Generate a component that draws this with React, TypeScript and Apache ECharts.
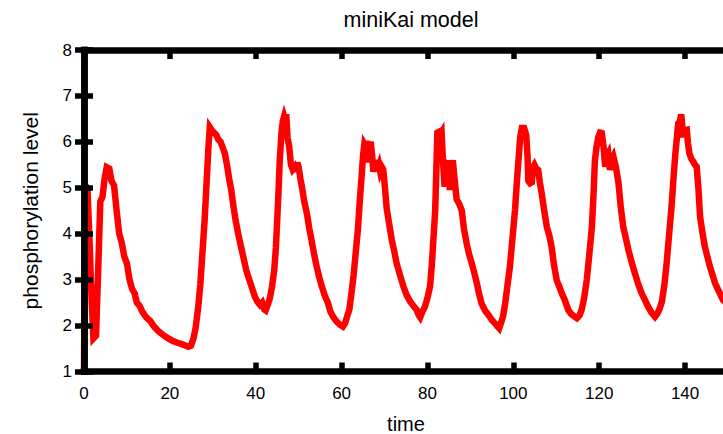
import React, { useEffect, useRef } from "react";
import * as echarts from "echarts";

const titleText = "miniKai model";
const xAxisName = "time";
const yAxisName = "phosphorylation level";

const times = [
  0, 0.3, 0.8, 1.3, 1.8, 2.2, 2.8, 3.3, 3.8, 4.3, 4.8, 5.3, 5.9, 6.4, 7.0, 7.6, 8.2, 8.8, 9.4, 10.0,
  10.6, 11.2, 11.8, 12.3, 13.0, 13.6, 14.5, 15.4, 16.3, 17.3, 18.5, 19.6, 20.6, 21.6, 22.6, 23.5, 24.3, 24.9, 25.5, 26.0,
  26.6, 27.1, 27.6, 28.1, 28.6, 29.0, 29.3, 29.8, 30.3, 30.8, 31.3, 31.8, 32.3, 32.8, 33.3, 33.8, 34.3, 34.8, 35.3, 35.9,
  36.5, 37.1, 37.8, 38.5, 39.2, 39.8, 40.4, 41.0, 41.5, 42.0, 42.3, 42.8, 43.3, 43.8, 44.3, 44.7, 45.0, 45.3, 45.6, 46.0,
  46.3, 46.6, 46.9, 47.1, 47.4, 47.8, 48.2, 48.6, 49.0, 49.3, 49.7, 50.0, 50.4, 50.8, 51.3, 51.9, 52.5, 53.0, 53.6, 54.2,
  54.8, 55.4, 56.1, 56.8, 57.4, 58.1, 58.9, 59.6, 60.3, 60.8, 61.3, 61.8, 62.3, 62.8, 63.3, 63.8, 64.3, 64.7, 65.0, 65.3,
  65.6, 65.9, 66.2, 66.5, 66.8, 67.1, 67.4, 67.7, 68.0, 68.3, 68.7, 69.0, 69.4, 69.7, 70.1, 70.5, 71.1, 71.7, 72.3, 72.8,
  73.6, 74.4, 75.2, 76.0, 76.8, 77.5, 78.0, 78.3, 78.8, 79.4, 80.0, 80.6, 81.0, 81.4, 81.8, 82.1, 82.3, 82.7, 83.0, 83.3,
  83.6, 84.0, 84.3, 84.6, 84.9, 85.2, 85.5, 85.9, 86.3, 86.8, 87.4, 88.0, 88.5, 89.1, 89.7, 90.3, 90.9, 91.5, 92.0, 92.6,
  93.4, 94.2, 95.0, 95.7, 96.3, 96.7, 97.2, 97.6, 98.1, 98.6, 99.2, 99.8, 100.4, 100.8, 101.2, 101.6, 102.0, 102.5, 103.0, 103.3,
  103.5, 103.9, 104.3, 104.6, 104.9, 105.3, 105.8, 106.2, 106.6, 107.2, 107.8, 108.4, 108.9, 109.5, 110.1, 110.7, 111.3, 112.0, 112.8, 113.5,
  114.2, 114.8, 115.4, 115.9, 116.5, 117.1, 117.7, 118.3, 118.7, 119.0, 119.4, 119.8, 120.2, 120.6, 121.0, 121.4, 121.8, 122.1, 122.5, 122.9,
  123.3, 123.9, 124.5, 125.0, 125.6, 126.2, 126.8, 127.5, 128.3, 129.1, 129.9, 130.7, 131.4, 132.2, 133.0, 133.5, 134.0, 134.6, 135.2, 135.7,
  136.3, 136.9, 137.3, 137.7, 138.1, 138.4, 138.8, 139.1, 139.4, 139.6, 140.0, 140.4, 140.7, 141.0, 141.5, 141.9, 142.3, 142.7, 143.1, 143.5,
  144.0, 144.6, 145.2, 145.8, 146.4, 147.0, 147.6, 148.1, 148.8, 149.5, 150.0,
];

const levels = [
  1.0, 5.05, 5.0, 3.8, 2.5, 1.72, 1.78, 3.2, 4.7, 4.8, 5.2, 5.45, 5.42, 5.15, 5.05, 4.5, 4.0, 3.8, 3.5, 3.35,
  3.0, 2.8, 2.7, 2.5, 2.42, 2.3, 2.18, 2.1, 1.98, 1.88, 1.79, 1.72, 1.67, 1.63, 1.6, 1.57, 1.54, 1.56, 1.72, 1.95,
  2.4, 2.9, 3.6, 4.3, 5.2, 5.9, 6.32, 6.25, 6.2, 6.15, 6.05, 6.0, 5.88, 5.75, 5.5, 5.2, 4.95, 4.6, 4.3, 4.0,
  3.75, 3.5, 3.2, 3.0, 2.8, 2.63, 2.52, 2.45, 2.5, 2.35, 2.33, 2.45, 2.6, 2.85, 3.2, 3.7, 4.3, 4.9, 5.6, 6.2,
  6.45, 6.55, 6.45, 6.6, 6.1, 5.9, 5.5, 5.4, 5.45, 5.35, 5.55, 5.45, 5.2, 5.0, 4.7, 4.45, 4.1, 3.86, 3.55, 3.28,
  3.05, 2.85, 2.65, 2.5, 2.3, 2.18, 2.08, 2.02, 1.98, 2.05, 2.2, 2.35, 2.7, 3.1, 3.6, 4.1, 4.8, 5.3, 5.7, 5.95,
  5.9, 6.02, 5.55, 5.9, 6.0, 5.7, 5.35, 5.5, 5.6, 5.4, 5.5, 5.35, 5.45, 5.4, 5.0, 4.55, 4.2, 3.86, 3.6, 3.36,
  3.1, 2.85, 2.65, 2.52, 2.42, 2.34, 2.22, 2.18, 2.3, 2.41, 2.6, 2.85, 3.3, 3.9, 4.5, 5.5, 6.2, 6.22, 6.15, 6.2,
  5.6, 5.02, 5.5, 5.45, 5.6, 4.95, 5.3, 5.6, 5.2, 4.75, 4.65, 4.5, 4.1, 3.8, 3.55, 3.36, 3.15, 2.92, 2.7, 2.48,
  2.33, 2.23, 2.12, 2.05, 1.98, 1.94, 2.08, 2.2, 2.48, 2.85, 3.28, 3.9, 4.52, 5.1, 5.6, 6.1, 6.3, 6.3, 6.15, 5.7,
  5.15, 5.1, 5.12, 5.45, 5.5, 5.42, 5.39, 5.1, 4.88, 4.5, 4.15, 3.95, 3.72, 3.3, 2.99, 2.85, 2.7, 2.55, 2.34, 2.25,
  2.2, 2.16, 2.22, 2.34, 2.6, 2.99, 3.55, 4.15, 4.9, 5.6, 5.9, 6.11, 6.2, 6.19, 5.9, 5.46, 5.7, 5.75, 5.39, 5.6,
  5.68, 5.45, 5.1, 4.6, 4.15, 3.9, 3.65, 3.4, 3.14, 2.9, 2.7, 2.55, 2.41, 2.28, 2.19, 2.25, 2.35, 2.52, 2.9, 3.35,
  4.0, 4.65, 5.2, 5.7, 6.1, 6.4, 6.45, 6.6, 6.3, 6.1, 6.25, 6.26, 5.95, 5.75, 5.62, 5.57, 5.5, 5.46, 5.0, 4.37,
  4.05, 3.72, 3.5, 3.28, 3.1, 2.92, 2.8, 2.7, 2.56, 2.5, 2.45,
];

const FONT = "Liberation Sans";

export default function App() {
  const ref = useRef<HTMLDivElement>(null);
  useEffect(() => {
    document.body.style.margin = "0";
    const chart = echarts.init(ref.current!, undefined, { renderer: "svg" });
    const frameLine = { show: true, lineStyle: { color: "#000", width: 6.5, cap: "square" } };
    const tick = { show: true, inside: true, length: 9, lineStyle: { color: "#000", width: 5.5 } };
    chart.setOption({
      animation: false,
      backgroundColor: "#fff",
      textStyle: { fontFamily: FONT },
      title: {
        text: titleText,
        left: 406,
        textAlign: "center",
        top: 4,
        textStyle: { fontFamily: FONT, fontSize: 21.5, fontWeight: "normal", color: "#000" },
      },
      grid: {
        left: 84,
        right: -5,
        top: 50,
        bottom: 62.5,
        containLabel: false,
        outerBoundsMode: "none",
      },
      xAxis: [
        {
          type: "value",
          position: "bottom",
          z: 5,
          min: 0,
          max: 150,
          interval: 20,
          name: xAxisName,
          nameLocation: "middle",
          nameGap: 42,
          nameTextStyle: { fontFamily: FONT, fontSize: 20, lineHeight: 20, color: "#000" },
          axisLine: frameLine,
          axisTick: tick,
          splitLine: { show: false },
          axisLabel: {
            margin: 13,
            fontFamily: FONT,
            fontSize: 17,
            color: "#000",
            showMaxLabel: false,
          },
        },
        {
          type: "value",
          position: "top",
          z: 5,
          min: 0,
          max: 150,
          interval: 20,
          axisLine: frameLine,
          axisTick: tick,
          splitLine: { show: false },
          axisLabel: { show: false },
        },
      ],
      yAxis: [
        {
          type: "value",
          position: "left",
          z: 5,
          min: 1,
          max: 8,
          interval: 1,
          name: yAxisName,
          nameLocation: "middle",
          nameGap: 43,
          nameTextStyle: { fontFamily: FONT, fontSize: 21, color: "#000" },
          axisLine: frameLine,
          axisTick: tick,
          splitLine: { show: false },
          axisLabel: { margin: 12, fontFamily: FONT, fontSize: 17, color: "#000" },
        },
        {
          type: "value",
          position: "right",
          z: 5,
          min: 1,
          max: 8,
          interval: 1,
          axisLine: frameLine,
          axisTick: tick,
          splitLine: { show: false },
          axisLabel: { show: false },
        },
      ],
      series: [
        {
          type: "line",
          data: times.map((t, i) => [t, levels[i]]),
          showSymbol: false,
          symbol: "none",
          clip: true,
          lineStyle: { color: "#ff0000", width: 6.5, join: "miter" },
          z: 1,
        },
      ],
    });
    return () => chart.dispose();
  }, []);
  return <div ref={ref} style={{ width: 723, height: 434 }} />;
}
